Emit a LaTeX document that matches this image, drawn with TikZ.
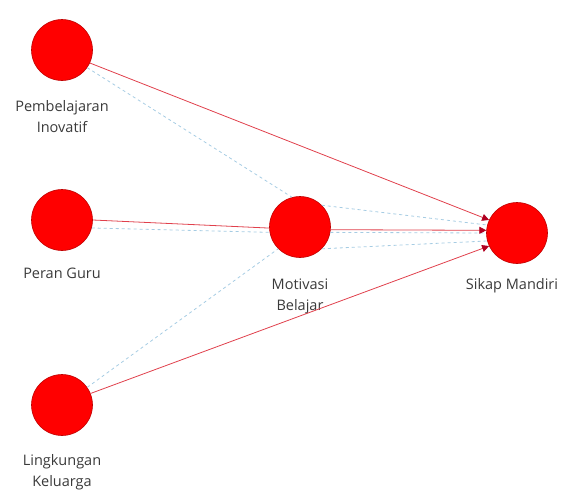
\documentclass[tikz,border=0pt]{standalone}
\usepackage{fontspec}
\setmainfont{Open Sans}
\usetikzlibrary{arrows.meta}
\definecolor{nodered}{HTML}{FF0000}
\definecolor{noderim}{HTML}{C00000}
\definecolor{linered}{HTML}{E0404C}
\definecolor{tipred}{HTML}{B00020}
\definecolor{dashblue}{HTML}{A6CCE3}
\definecolor{labelgray}{HTML}{3A3A3A}
\begin{document}
\begin{tikzpicture}[x=1pt,y=-1pt,
  var/.style={circle,fill=nodered,draw=noderim,line width=0.6pt,minimum size=61pt,inner sep=0pt},
  lab/.style={font=\fontsize{14.5}{21}\selectfont,text=labelgray,align=center,inner sep=0pt},
  direct/.style={draw=linered,line width=0.8pt},
  directarrow/.style={direct,-{Triangle[length=7pt,width=7pt,color=tipred]}},
  indirect/.style={draw=dashblue,line width=0.8pt,dash pattern=on 3pt off 3pt}]
\useasboundingbox (0,0) rectangle (565,490);
\node[var] (PI) at (62,50) {};
\node[var] (PG) at (62,220) {};
\node[var] (LK) at (62,405) {};
\node[var] (MB) at (300,227) {};
\node[var] (SM) at (517,233) {};
\node[lab] (PIl) at (62,117) {Pembelajaran\\Inovatif};
\node[lab] (PGl) at (62,273) {Peran Guru};
\node[lab] (LKl) at (62,472) {Lingkungan\\Keluarga};
\node[lab] (MBl) at (300,296) {Motivasi\\Belajar};
\node[lab] (SMl) at (512,286) {Sikap Mandiri};
% indirect (dashed) paths
\draw[indirect] (PI.-35) -- (MB.105);
\draw[indirect] (PG.-15) -- (MB.-170);
\draw[indirect] (LK.35) -- (MB.-135);
\draw[indirect] (MB.45) -- (SM.165);
\draw[indirect] (MB.-10) -- (SM.180);
\draw[indirect] (MB.-45) -- (SM.-165);
% direct paths
\draw[directarrow] (PI.-25) -- (SM.155);
\draw[direct] (PG.0) -- (MB.-178);
\draw[directarrow] (MB.-5) -- (SM.175);
\draw[directarrow] (LK.22) -- (SM.-155);
\end{tikzpicture}
\end{document}
